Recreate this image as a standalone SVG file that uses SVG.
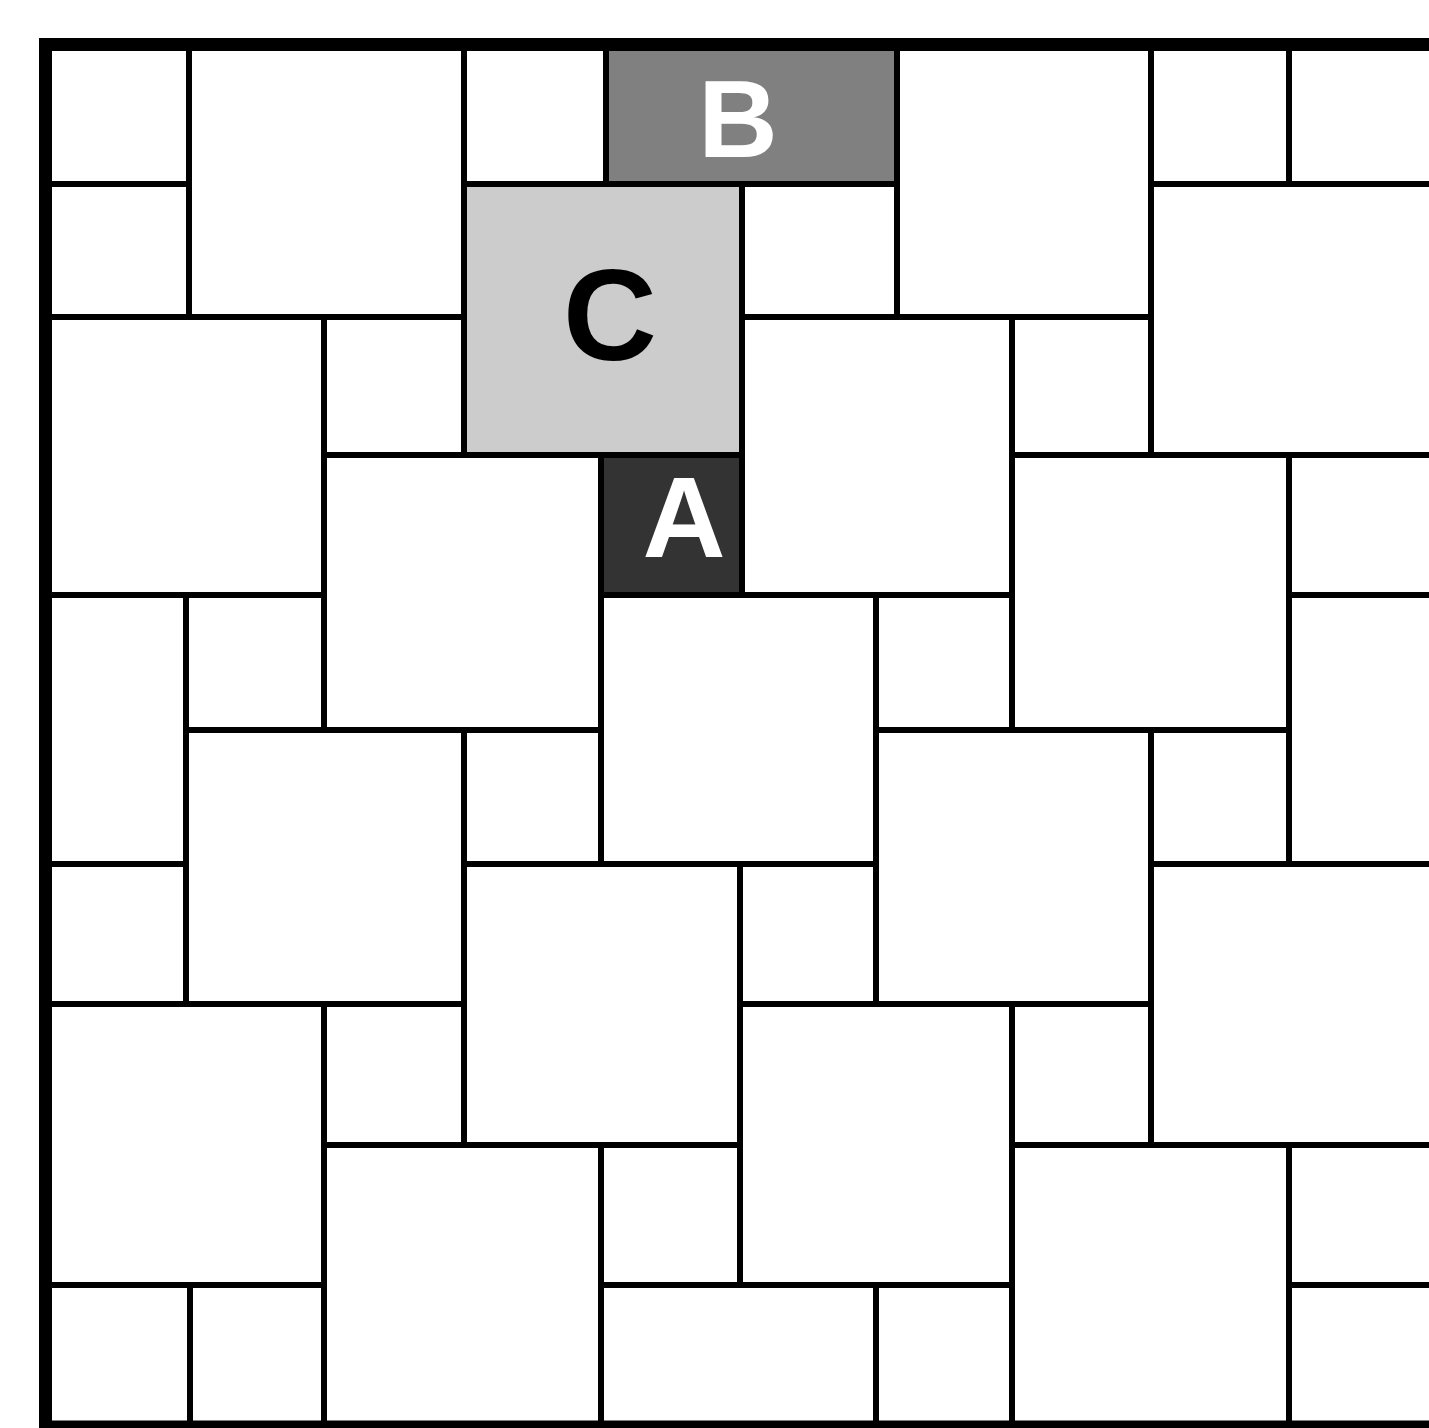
<svg xmlns="http://www.w3.org/2000/svg" width="1429" height="1428" viewBox="0 0 1429 1428">
<style>
.t{fill:#ffffff;stroke:#000000;stroke-width:6}
.lbl{font-family:"Liberation Sans",Arial,sans-serif;font-weight:bold;text-anchor:middle}
.frame{fill:none;stroke:#000000;stroke-width:13}
</style>
<rect x="0" y="0" width="1429" height="1428" fill="#ffffff"/>
<g id="tiles-large">
<rect class="t" x="45" y="45" width="144" height="139"/>
<rect class="t" x="1289" y="45" width="151" height="139"/>
<rect class="t" x="189" y="45" width="275" height="272"/>
<rect class="t" x="897" y="45" width="254" height="272"/>
<rect class="t" x="1151" y="184" width="289" height="271"/>
<rect class="t" x="45" y="317" width="279" height="278"/>
<rect class="t" x="742" y="317" width="270" height="278"/>
<rect class="t" x="324" y="455" width="277" height="275"/>
<rect class="t" x="1012" y="455" width="277" height="275"/>
<rect class="t" x="45" y="595" width="141" height="269"/>
<rect class="t" x="601" y="595" width="275" height="269"/>
<rect class="t" x="1289" y="595" width="151" height="269"/>
<rect class="t" x="186" y="730" width="278" height="274"/>
<rect class="t" x="876" y="730" width="275" height="274"/>
<rect class="t" x="464" y="864" width="276" height="281"/>
<rect class="t" x="1151" y="864" width="289" height="281"/>
<rect class="t" x="45" y="1004" width="279" height="281"/>
<rect class="t" x="740" y="1004" width="272" height="281"/>
<rect class="t" x="324" y="1145" width="277" height="282"/>
<rect class="t" x="1012" y="1145" width="277" height="282"/>
<rect class="t" x="45" y="1285" width="145" height="142"/>
<rect class="t" x="601" y="1285" width="275" height="142"/>
<rect class="t" x="1289" y="1285" width="151" height="142"/>
</g>
<g id="tiles-small">
<rect class="t" x="464" y="45" width="142" height="139"/>
<rect class="t" x="1151" y="45" width="138" height="139"/>
<rect class="t" x="45" y="184" width="144" height="133"/>
<rect class="t" x="742" y="184" width="155" height="133"/>
<rect class="t" x="324" y="317" width="140" height="138"/>
<rect class="t" x="1012" y="317" width="139" height="138"/>
<rect class="t" x="1289" y="455" width="151" height="140"/>
<rect class="t" x="186" y="595" width="138" height="135"/>
<rect class="t" x="876" y="595" width="136" height="135"/>
<rect class="t" x="464" y="730" width="137" height="134"/>
<rect class="t" x="1151" y="730" width="138" height="134"/>
<rect class="t" x="45" y="864" width="141" height="140"/>
<rect class="t" x="740" y="864" width="136" height="140"/>
<rect class="t" x="324" y="1004" width="140" height="141"/>
<rect class="t" x="1012" y="1004" width="139" height="141"/>
<rect class="t" x="601" y="1145" width="139" height="140"/>
<rect class="t" x="1289" y="1145" width="151" height="140"/>
<rect class="t" x="190" y="1285" width="134" height="142"/>
<rect class="t" x="876" y="1285" width="136" height="142"/>
</g>
<g id="tile-C">
<rect class="t" x="464" y="184" width="278" height="271" style="fill:#cccccc"/>
<text class="lbl" x="610" y="360" font-size="130" fill="#000000">C</text>
</g>
<g id="tile-B">
<rect class="t" x="606" y="45" width="291" height="139" style="fill:#808080"/>
<text class="lbl" x="738" y="157" font-size="110" fill="#ffffff">B</text>
</g>
<g id="tile-A">
<rect class="t" x="601" y="455" width="141" height="140" style="fill:#333333"/>
<text class="lbl" x="684" y="557" font-size="115" fill="#ffffff">A</text>
</g>
<path id="frame" class="frame" d="M45.5,1433 V44.5 H1440 M39,1427 H1440"/>
</svg>
